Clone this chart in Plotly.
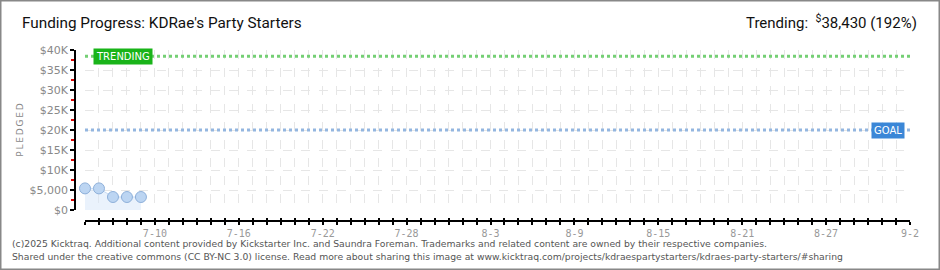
import plotly.graph_objects as go

# ---- data ----
dates = ["2025-07-05", "2025-07-06", "2025-07-07", "2025-07-08", "2025-07-09"]
pledged = [5400, 5400, 3250, 3250, 3250]
goal = 20000
trending = 38430
trending_pct = 192
x_start = "2025-07-05"
x_end = "2025-09-02"
y_ticks = [0, 5000, 10000, 15000, 20000, 25000, 30000, 35000, 40000]
y_tick_labels = ["$0", "$5,000", "$10K", "$15K", "$20K", "$25K", "$30K", "$35K", "$40K"]
y_title = "PLEDGED"
title_text = "Funding Progress: KDRae's Party Starters"
footer1 = "(c)2025 Kicktraq. Additional content provided by Kickstarter Inc. and Saundra Foreman. Trademarks and related content are owned by their respective companies."
footer2 = "Shared under the creative commons (CC BY-NC 3.0) license. Read more about sharing this image at www.kicktraq.com/projects/kdraespartystarters/kdraes-party-starters/#sharing"

W, H = 940, 270
L, R, T, B = 75, 30, 50, 49
PW, PH = W - L - R, H - T - B


def px(x):
    return (x - L) / PW


def py(y):
    return (H - B - y) / PH


fig = go.Figure()

# goal & trending lines
fig.add_trace(go.Scatter(x=[x_start, x_end], y=[trending, trending], mode="lines",
                         line=dict(color="#74cf74", width=3, dash="dot"),
                         hoverinfo="skip", showlegend=False, cliponaxis=False))
fig.add_trace(go.Scatter(x=[x_start, x_end], y=[goal, goal], mode="lines",
                         line=dict(color="#93b6e0", width=3, dash="dot"),
                         hoverinfo="skip", showlegend=False, cliponaxis=False))

# pledged series
fig.add_trace(go.Scatter(x=dates, y=pledged, mode="lines+markers", fill="tozeroy",
                         fillcolor="rgba(214,230,250,0.5)",
                         line=dict(color="#c6dbf4", width=1),
                         marker=dict(size=11, color="#bcd5f2", line=dict(color="#8eb0da", width=1)),
                         showlegend=False, cliponaxis=False))

# overlay axis for inside half of the cross ticks
fig.add_trace(go.Scatter(x=[x_start, x_end], y=[0, 0], xaxis="x2", mode="lines",
                         line=dict(width=0), showlegend=False, hoverinfo="skip"))

day = 86400000
fig.update_layout(
    width=W, height=H,
    margin=dict(l=L, r=R, t=T, b=B),
    paper_bgcolor="white", plot_bgcolor="white",
    font=dict(family="DejaVu Sans", color="#888"),
    xaxis=dict(
        type="date", range=[x_start, x_end], domain=[px(85), 1],
        anchor="free", position=0,
        tick0="2025-07-10", dtick=6 * day, tickformat="%-m-%-d",
        ticks="outside", ticklen=3, tickcolor="#000", tickwidth=1.5,
        showline=True, linecolor="#000", linewidth=1.5,
        showgrid=True, gridcolor="#e6e6e6", griddash="dash", gridwidth=1,
        tickfont=dict(size=10, color="#999", family="DejaVu Sans Mono"),
        minor=dict(dtick=day, ticks="outside", ticklen=3, tickcolor="#000", tickwidth=1.5,
                   showgrid=True, gridcolor="#e6e6e6", griddash="dash", gridwidth=1),
        zeroline=False, fixedrange=True,
    ),
    xaxis2=dict(
        type="date", range=[x_start, x_end], domain=[px(85), 1],
        anchor="free", position=0, overlaying="x",
        tick0="2025-07-10", dtick=day, ticks="inside", ticklen=3,
        tickcolor="#000", tickwidth=1.5, showticklabels=False, showgrid=False,
        showline=False, zeroline=False,
    ),
    yaxis=dict(
        range=[0, 40000], domain=[py(210), 1],
        anchor="free", position=0,
        tickvals=y_ticks, ticktext=y_tick_labels,
        ticks="outside", ticklen=4, tickcolor="#000", tickwidth=1.5,
        showline=True, linecolor="#000", linewidth=1.5,
        showgrid=True, gridcolor="#e6e6e6", griddash="dash", gridwidth=1,
        tickfont=dict(size=11, color="#888", family="DejaVu Sans"),
        minor=dict(dtick=5000, tick0=2500, ticks="outside", ticklen=3,
                   tickcolor="#e00000", tickwidth=1.5, showgrid=False),
        zeroline=False, fixedrange=True,
        title=dict(text="\u2009".join(y_title),
                   font=dict(size=9, color="#888", family="DejaVu Sans"),
                   standoff=3),
    ),
)

# frame
fig.add_shape(type="rect", xref="paper", yref="paper",
              x0=px(0.75), x1=px(W - 0.75), y0=py(H - 0.75), y1=py(0.75),
              line=dict(color="#888", width=1.5), layer="above")

# labels on lines
fig.add_annotation(text="TRENDING", xref="x domain", x=0, xshift=8, xanchor="left",
                   yref="y", y=trending, yanchor="middle", showarrow=False,
                   font=dict(size=10, color="white", family="DejaVu Sans"),
                   bgcolor="#19b419", borderpad=2)
fig.add_annotation(text="GOAL", xref="x domain", x=1, xshift=-5, xanchor="right",
                   yref="y", y=goal, yanchor="middle", showarrow=False,
                   font=dict(size=10, color="white", family="DejaVu Sans"),
                   bgcolor="#3b87d7", borderpad=2)

# title and trending text
fig.add_annotation(text=title_text, xref="paper", yref="paper", x=px(20), y=py(23),
                   xanchor="left", yanchor="middle", showarrow=False,
                   font=dict(size=15.3, color="#111", family="Roboto"))
fig.add_annotation(text=f"Trending:  <sup>$</sup>{trending:,} ({trending_pct}%)",
                   xref="paper", yref="paper", x=px(919), y=py(22),
                   xanchor="right", yanchor="middle", showarrow=False,
                   font=dict(size=15, color="#111", family="Roboto"))

# footer
fig.add_annotation(text=footer1, xref="paper", yref="paper", x=px(10), y=py(243),
                   xanchor="left", yanchor="middle", showarrow=False,
                   font=dict(size=9.25, color="#555", family="DejaVu Sans"))
fig.add_annotation(text=footer2, xref="paper", yref="paper", x=px(10), y=py(256),
                   xanchor="left", yanchor="middle", showarrow=False,
                   font=dict(size=9.25, color="#555", family="DejaVu Sans"))

fig.write_html("out.html")
